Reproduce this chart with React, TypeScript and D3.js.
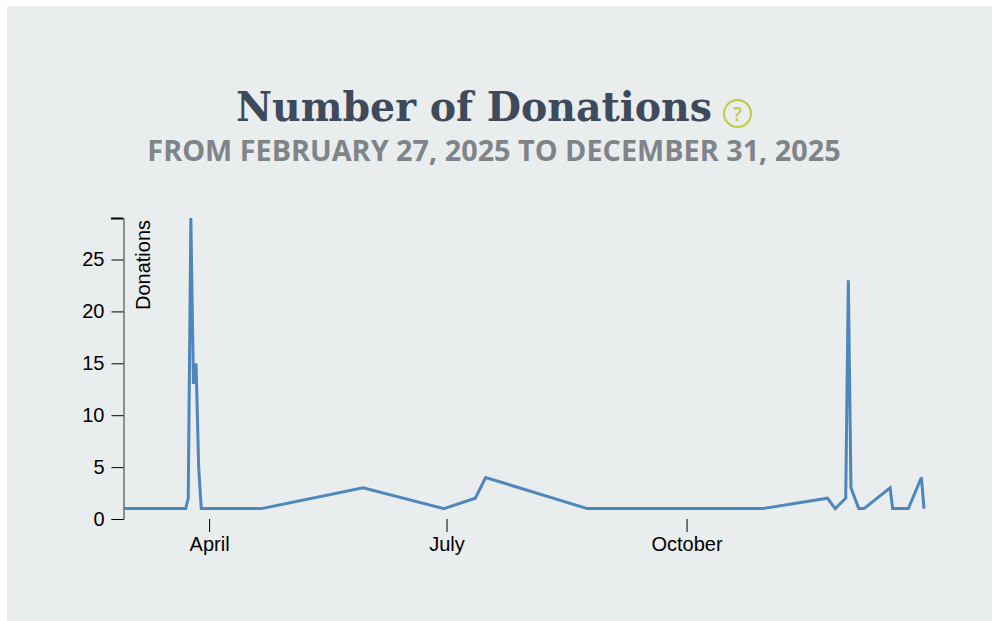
import React, { useEffect, useRef } from "react";
import * as d3 from "d3";

const dates = [
  "2025-02-27", "2025-03-23", "2025-03-24", "2025-03-25", "2025-03-26", "2025-03-27",
  "2025-03-28", "2025-03-29", "2025-04-21", "2025-05-30", "2025-06-30", "2025-07-12",
  "2025-07-16", "2025-08-24", "2025-10-30", "2025-11-24", "2025-11-27", "2025-12-01",
  "2025-12-02", "2025-12-03", "2025-12-06", "2025-12-08", "2025-12-18", "2025-12-19",
  "2025-12-25", "2025-12-30", "2025-12-31",
];
const donations = [1, 1, 2, 29, 13, 15, 5, 1, 1, 3, 1, 2, 4, 1, 1, 2, 1, 2, 23, 3, 1, 1, 3, 1, 1, 4, 1];
const yTicks = [0, 5, 10, 15, 20, 25];
const xTicks = ["2025-04-01", "2025-07-01", "2025-10-01"];
const xTickLabels = ["April", "July", "October"];

const parse = d3.utcParse("%Y-%m-%d");

export default function App() {
  const svgRef = useRef<SVGSVGElement>(null);

  useEffect(() => {
    const svg = d3.select(svgRef.current);
    svg.selectAll("*").remove();

    // panel behind everything
    svg.append("rect").attr("x", 7).attr("y", 6).attr("width", 985).attr("height", 615).attr("fill", "#e9edee");

    // titles
    svg.append("text")
      .attr("x", 474)
      .attr("y", 120.5)
      .attr("text-anchor", "middle")
      .style("font-family", "'DejaVu Serif'")
      .style("font-weight", "bold")
      .style("font-size", "41px")
      .attr("textLength", 476)
      .attr("lengthAdjust", "spacingAndGlyphs")
      .attr("fill", "#3e4a5a")
      .text("Number of Donations");

    svg.append("text")
      .attr("x", 494)
      .attr("y", 161)
      .attr("text-anchor", "middle")
      .style("font-family", "'Open Sans'")
      .style("font-weight", "bold")
      .style("font-size", "28.8px")
      .attr("fill", "#808488")
      .text("FROM FEBRUARY 27, 2025 TO DECEMBER 31, 2025");

    // help icon
    svg.append("circle")
      .attr("cx", 737.5)
      .attr("cy", 113.5)
      .attr("r", 13.5)
      .attr("fill", "none")
      .attr("stroke", "#bfcb3f")
      .attr("stroke-width", 2);
    svg.append("text")
      .attr("x", 737.5)
      .attr("y", 120.5)
      .attr("text-anchor", "middle")
      .style("font-family", "'Open Sans'")
      .style("font-weight", "600")
      .style("font-size", "19px")
      .attr("fill", "#bfcb3f")
      .text("?");

    const x = d3
      .scaleUtc()
      .domain([parse(dates[0])!, parse(dates[dates.length - 1])!])
      .range([123, 924]);
    const y = d3.scaleLinear().domain([0, 29]).range([519, 218]);

    const font = "'Liberation Sans'";

    // Y axis
    const yAxis = svg
      .append("g")
      .attr("transform", "translate(123.5, 0)")
      .call(
        d3.axisLeft(y).tickValues(yTicks).tickSize(12).tickSizeOuter(12).tickPadding(7),
      );
    yAxis.select(".domain").attr("stroke", "#333").attr("stroke-width", 1);
    yAxis.selectAll("text").style("font-family", font).style("font-size", "20px").attr("fill", "#000");
    // heavier cap at the top of the axis
    svg.append("line")
      .attr("x1", 111)
      .attr("x2", 123)
      .attr("y1", y(29) + 0.5)
      .attr("y2", y(29) + 0.5)
      .attr("stroke", "#000")
      .attr("stroke-width", 2);

    svg.append("text")
      .attr("transform", "translate(150, 265) rotate(-90)")
      .attr("text-anchor", "middle")
      .style("font-family", font)
      .style("font-size", "20px")
      .attr("fill", "#000")
      .text("Donations");

    // X axis, no domain line
    const xDates = xTicks.map((d) => parse(d)!);
    const xAxis = svg
      .append("g")
      .attr("transform", "translate(0, 519)")
      .call(
        d3
          .axisBottom(x)
          .tickValues(xDates)
          .tickSize(13)
          .tickSizeOuter(0)
          .tickPadding(5)
          .tickFormat((_, i) => xTickLabels[i]),
      );
    xAxis.select(".domain").remove();
    xAxis.selectAll("text").style("font-family", font).style("font-size", "20px").attr("fill", "#000");

    // donations line
    const line = d3
      .line<string>()
      .x((d) => x(parse(d)!))
      .y((_, i) => y(donations[i]));
    svg.append("path")
      .datum(dates)
      .attr("fill", "none")
      .attr("stroke", "#4d87bb")
      .attr("stroke-width", 3)
      .attr("d", line);
  }, []);

  return (
    <svg
      ref={svgRef}
      width={992}
      height={621}
      style={{ position: "absolute", left: 0, top: 0, background: "#fff" }}
    />
  );
}
